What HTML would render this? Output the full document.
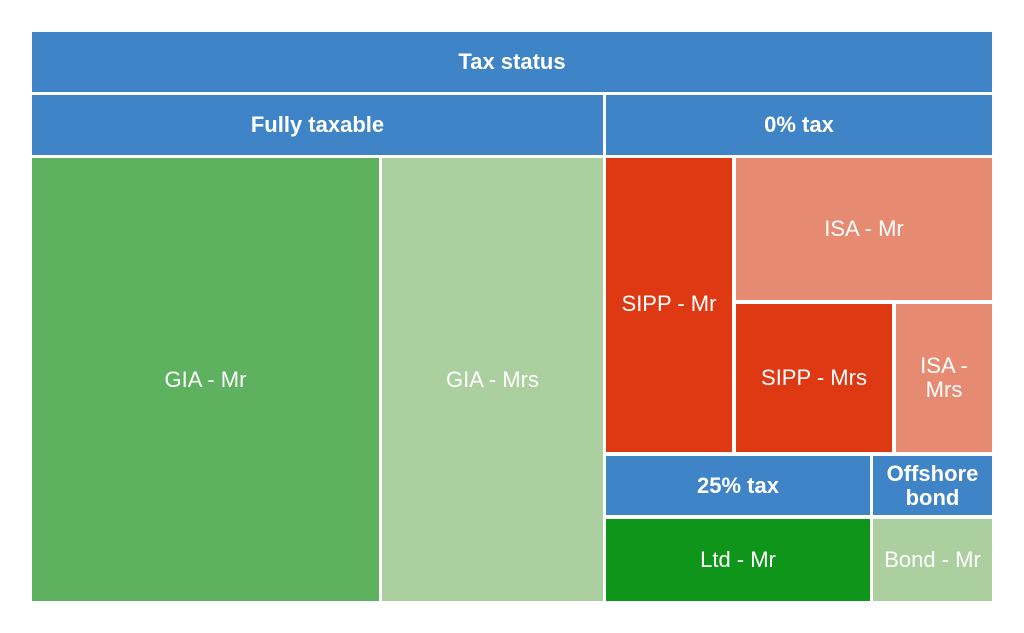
<!DOCTYPE html>
<html><head><style>
body{margin:0;background:#fff;width:1024px;height:633px;position:relative;overflow:hidden;font-family:"Liberation Sans",Arial,sans-serif}
div.b{position:absolute;display:flex;align-items:center;justify-content:center;text-align:center;color:#fff;font-size:22px;line-height:24px}
.h{background:#3f84c6;font-weight:bold}
</style></head><body>
<div class="b h" style="left:32px;top:32px;width:960px;height:60px">Tax status</div>
<div class="b h" style="left:32px;top:95px;width:571px;height:60px">Fully taxable</div>
<div class="b h" style="left:606px;top:95px;width:386px;height:60px">0% tax</div>
<div class="b" style="left:32px;top:158px;width:347px;height:443px;background:#5eb15e">GIA - Mr</div>
<div class="b" style="left:382px;top:158px;width:221px;height:443px;background:#abcf9f">GIA - Mrs</div>
<div class="b" style="left:606px;top:158px;width:126px;height:294px;background:#de3913;align-items:flex-start;padding-top:134px;box-sizing:border-box">SIPP - Mr</div>
<div class="b" style="left:736px;top:158px;width:256px;height:142px;background:#e68a72">ISA - Mr</div>
<div class="b" style="left:736px;top:304px;width:156px;height:148px;background:#de3913">SIPP - Mrs</div>
<div class="b" style="left:896px;top:304px;width:96px;height:148px;background:#e68a72">ISA -<br>Mrs</div>
<div class="b h" style="left:606px;top:456px;width:264px;height:59px">25% tax</div>
<div class="b h" style="left:873px;top:456px;width:119px;height:59px">Offshore<br>bond</div>
<div class="b" style="left:606px;top:519px;width:264px;height:82px;background:#10951b">Ltd - Mr</div>
<div class="b" style="left:873px;top:519px;width:119px;height:82px;background:#abcf9f">Bond - Mr</div>
</body></html>
